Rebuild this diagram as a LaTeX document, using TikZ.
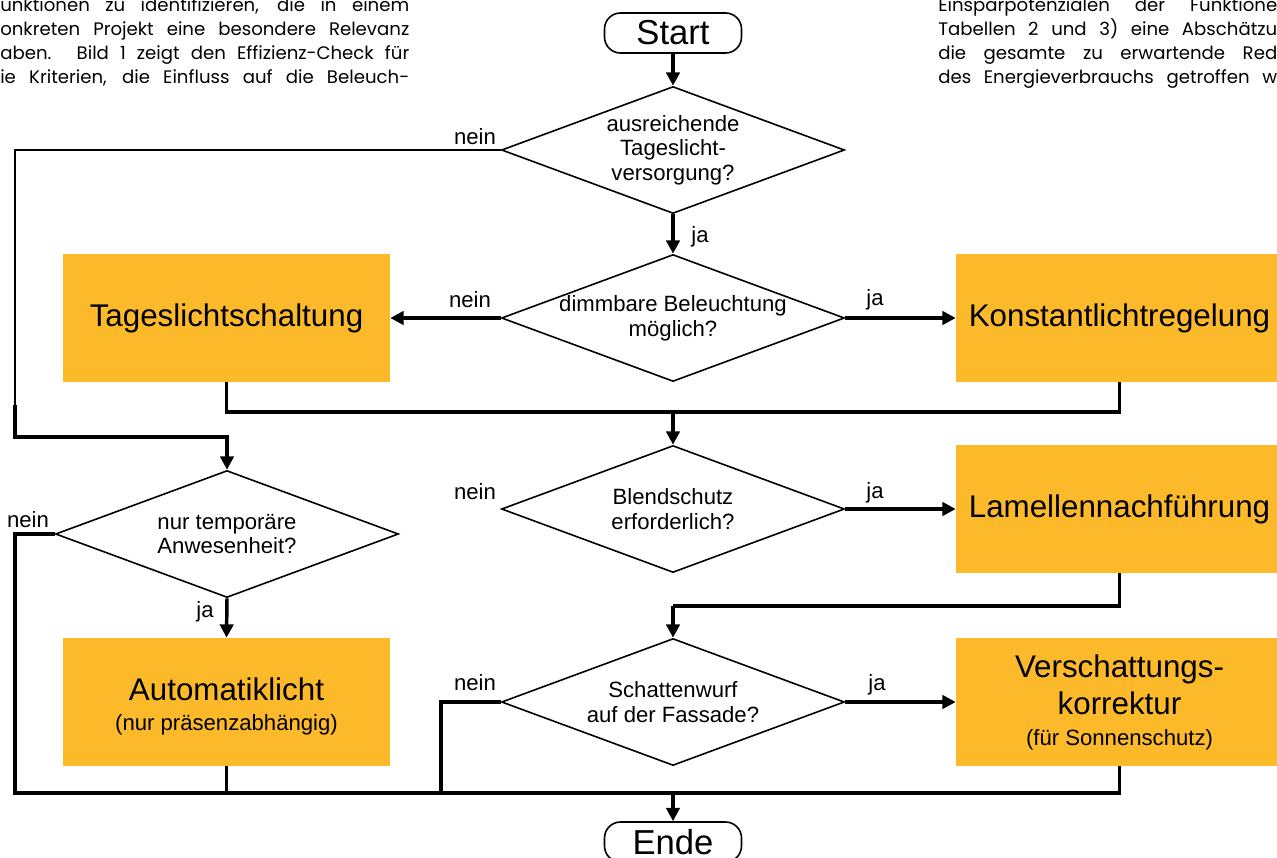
\documentclass[tikz,border=0pt]{standalone}
\usepackage{fontspec}
\setmainfont{Liberation Sans}
\newfontfamily\pagefont{Poppins}
\usetikzlibrary{shapes.geometric,arrows.meta}
\definecolor{boxorange}{RGB}{252,185,41}
\newcommand\qfont{\fontsize{16.6}{18.5}\selectfont}
\newcommand\bfont{\fontsize{23.5}{26}\selectfont}

\begin{document}
\begin{tikzpicture}[x=.75pt,y=-.75pt,
  terminal/.style={draw,line width=1.2pt,rounded corners=12pt,minimum width=102.75pt,minimum height=30pt,inner sep=0pt,font=\fontsize{26}{28}\selectfont},
  decision/.style={draw,diamond,line width=1.2pt,minimum width=257.25pt,minimum height=95.25pt,inner sep=0pt},
  qtext/.style={align=center,font=\qfont,inner sep=0pt},
  action/.style={fill=boxorange,minimum width=245.25pt,minimum height=96pt,inner sep=0pt,align=center,font=\bfont},
  flow/.style={line width=2.6pt},
  thinflow/.style={line width=1.5pt},
  arrow/.style={flow,-{Triangle[length=10pt,width=10pt]}},
  lbl/.style={font=\qfont,inner sep=0pt},
  page/.style={anchor=base west,inner sep=0pt,font=\pagefont\fontsize{13.6}{17}\selectfont}]
  \useasboundingbox (0,0) rectangle (1277,857);
  \clip (0,0) rectangle (1277,857);

  % text of the page around the figure
  \node[page] (p1) at (0,11.7) {\makebox[306.75pt][s]{unktionen zu identifizieren, die in einem}};
  \node[page] (p2) at (0,35.5) {\makebox[306.75pt][s]{onkreten Projekt eine besondere Relevanz}};
  \node[page] (p3) at (0,59.3) {\makebox[306.75pt][s]{aben. Bild 1 zeigt den Effizienz-Check f\"ur}};
  \node[page] (p4) at (0,83.1) {\makebox[306.75pt][s]{ie Kriterien, die Einfluss auf die Beleuch-}};
  \node[page] (q1) at (938,11.7) {\makebox[254.25pt][s]{Einsparpotenzialen der Funktione}};
  \node[page] (q2) at (938,35.5) {\makebox[254.25pt][s]{Tabellen 2 und 3) eine Absch\"atzu}};
  \node[page] (q3) at (938,59.3) {\makebox[254.25pt][s]{die gesamte zu erwartende Red}};
  \node[page] (q4) at (938,83.1) {\makebox[254.25pt][s]{des Energieverbrauchs getroffen w}};

  % start and the questions in the middle column
  \node[terminal] (start) at (673,33) {Start};
  \node[decision,label={[qtext]center:{ausreichende\\Tageslicht-\\versorgung?}}] (d1) at (673,150) {};
  \node[decision,label={[qtext]center:{dimmbare Beleuchtung\\m\"oglich?}}] (d2) at (673,318) {};
  \node[decision,label={[qtext]center:{Blendschutz\\erforderlich?}}] (d3) at (673,509) {};
  \node[decision,label={[qtext]center:{Schattenwurf\\auf der Fassade?}}] (d4) at (673,702) {};
  \node[decision,label={[qtext]center:{nur tempor\"are\\Anwesenheit?}}] (d5) at (227,534) {};
  \node[terminal] (ende) at (673,842) {Ende};

  % functions
  \node[action] (tls) at (226.5,318) {Tageslichtschaltung};
  \node[action] (kon) at (1119.5,318) {Konstantlichtregelung};
  \node[action] (lam) at (1119.5,509) {Lamellennachf\"uhrung};
  \node[action] (ver) at (1119.5,702) {Verschattungs-\\[2pt]korrektur\\[-3pt]{\qfont(f\"ur Sonnenschutz)}};
  \node[action] (aut) at (226.5,702) {\rule{0pt}{23pt}Automatiklicht\\[-3.5pt]{\qfont(nur pr\"asenzabh\"angig)}};

  % bends of the lines
  \coordinate (c0) at (15,405);
  \coordinate (c1) at (15,437);
  \coordinate (j1) at (673,412);
  \coordinate (j2) at (673,606);
  \coordinate (bl) at (15,793);
  \coordinate (dl) at (441,793);

  % connectors
  \draw[arrow] (start) -- (d1.north);
  \draw[arrow] (d1.south) -- (d2.north);
  \draw[arrow] (d2.west) -- (tls.east);
  \draw[arrow] (d2.east) -- (kon.west);
  \draw[flow] (tls.south) |- (j1) -| (kon.south);
  \draw[arrow] (j1) -- (d3.north);
  \draw[arrow] (d3.east) -- (lam.west);
  \draw[flow] (lam.south) |- (j2);
  \draw[arrow] (j2) -- (d4.north);
  \draw[arrow] (d4.east) -- (ver.west);
  \draw[thinflow] (d1.west) -| (c0);
  \draw[arrow] (c0) -- (c1) -| (d5.north);
  \draw[arrow] (d5.south) -- (aut.north);
  \draw[flow] (d5.west) -| (bl) -- (ver.south |- bl) -- (ver.south);
  \draw[flow] (aut.south) -- (aut.south |- bl);
  \draw[flow] (d4.west) -| (dl);
  \draw[arrow] (ende.north |- bl) -- (ende.north);

  % ja / nein
  \node[lbl] (n1) at (475,137) {nein};
  \node[lbl] (y1) at (700,237) {ja};
  \node[lbl] (n2) at (470,300) {nein};
  \node[lbl] (y2) at (875,300) {ja};
  \node[lbl] (n3) at (475,492) {nein};
  \node[lbl] (y3) at (875,493) {ja};
  \node[lbl] (n4) at (475,683) {nein};
  \node[lbl] (y4) at (877,685) {ja};
  \node[lbl] (n5) at (28,520) {nein};
  \node[lbl] (y5) at (205,612) {ja};
\end{tikzpicture}
\end{document}
